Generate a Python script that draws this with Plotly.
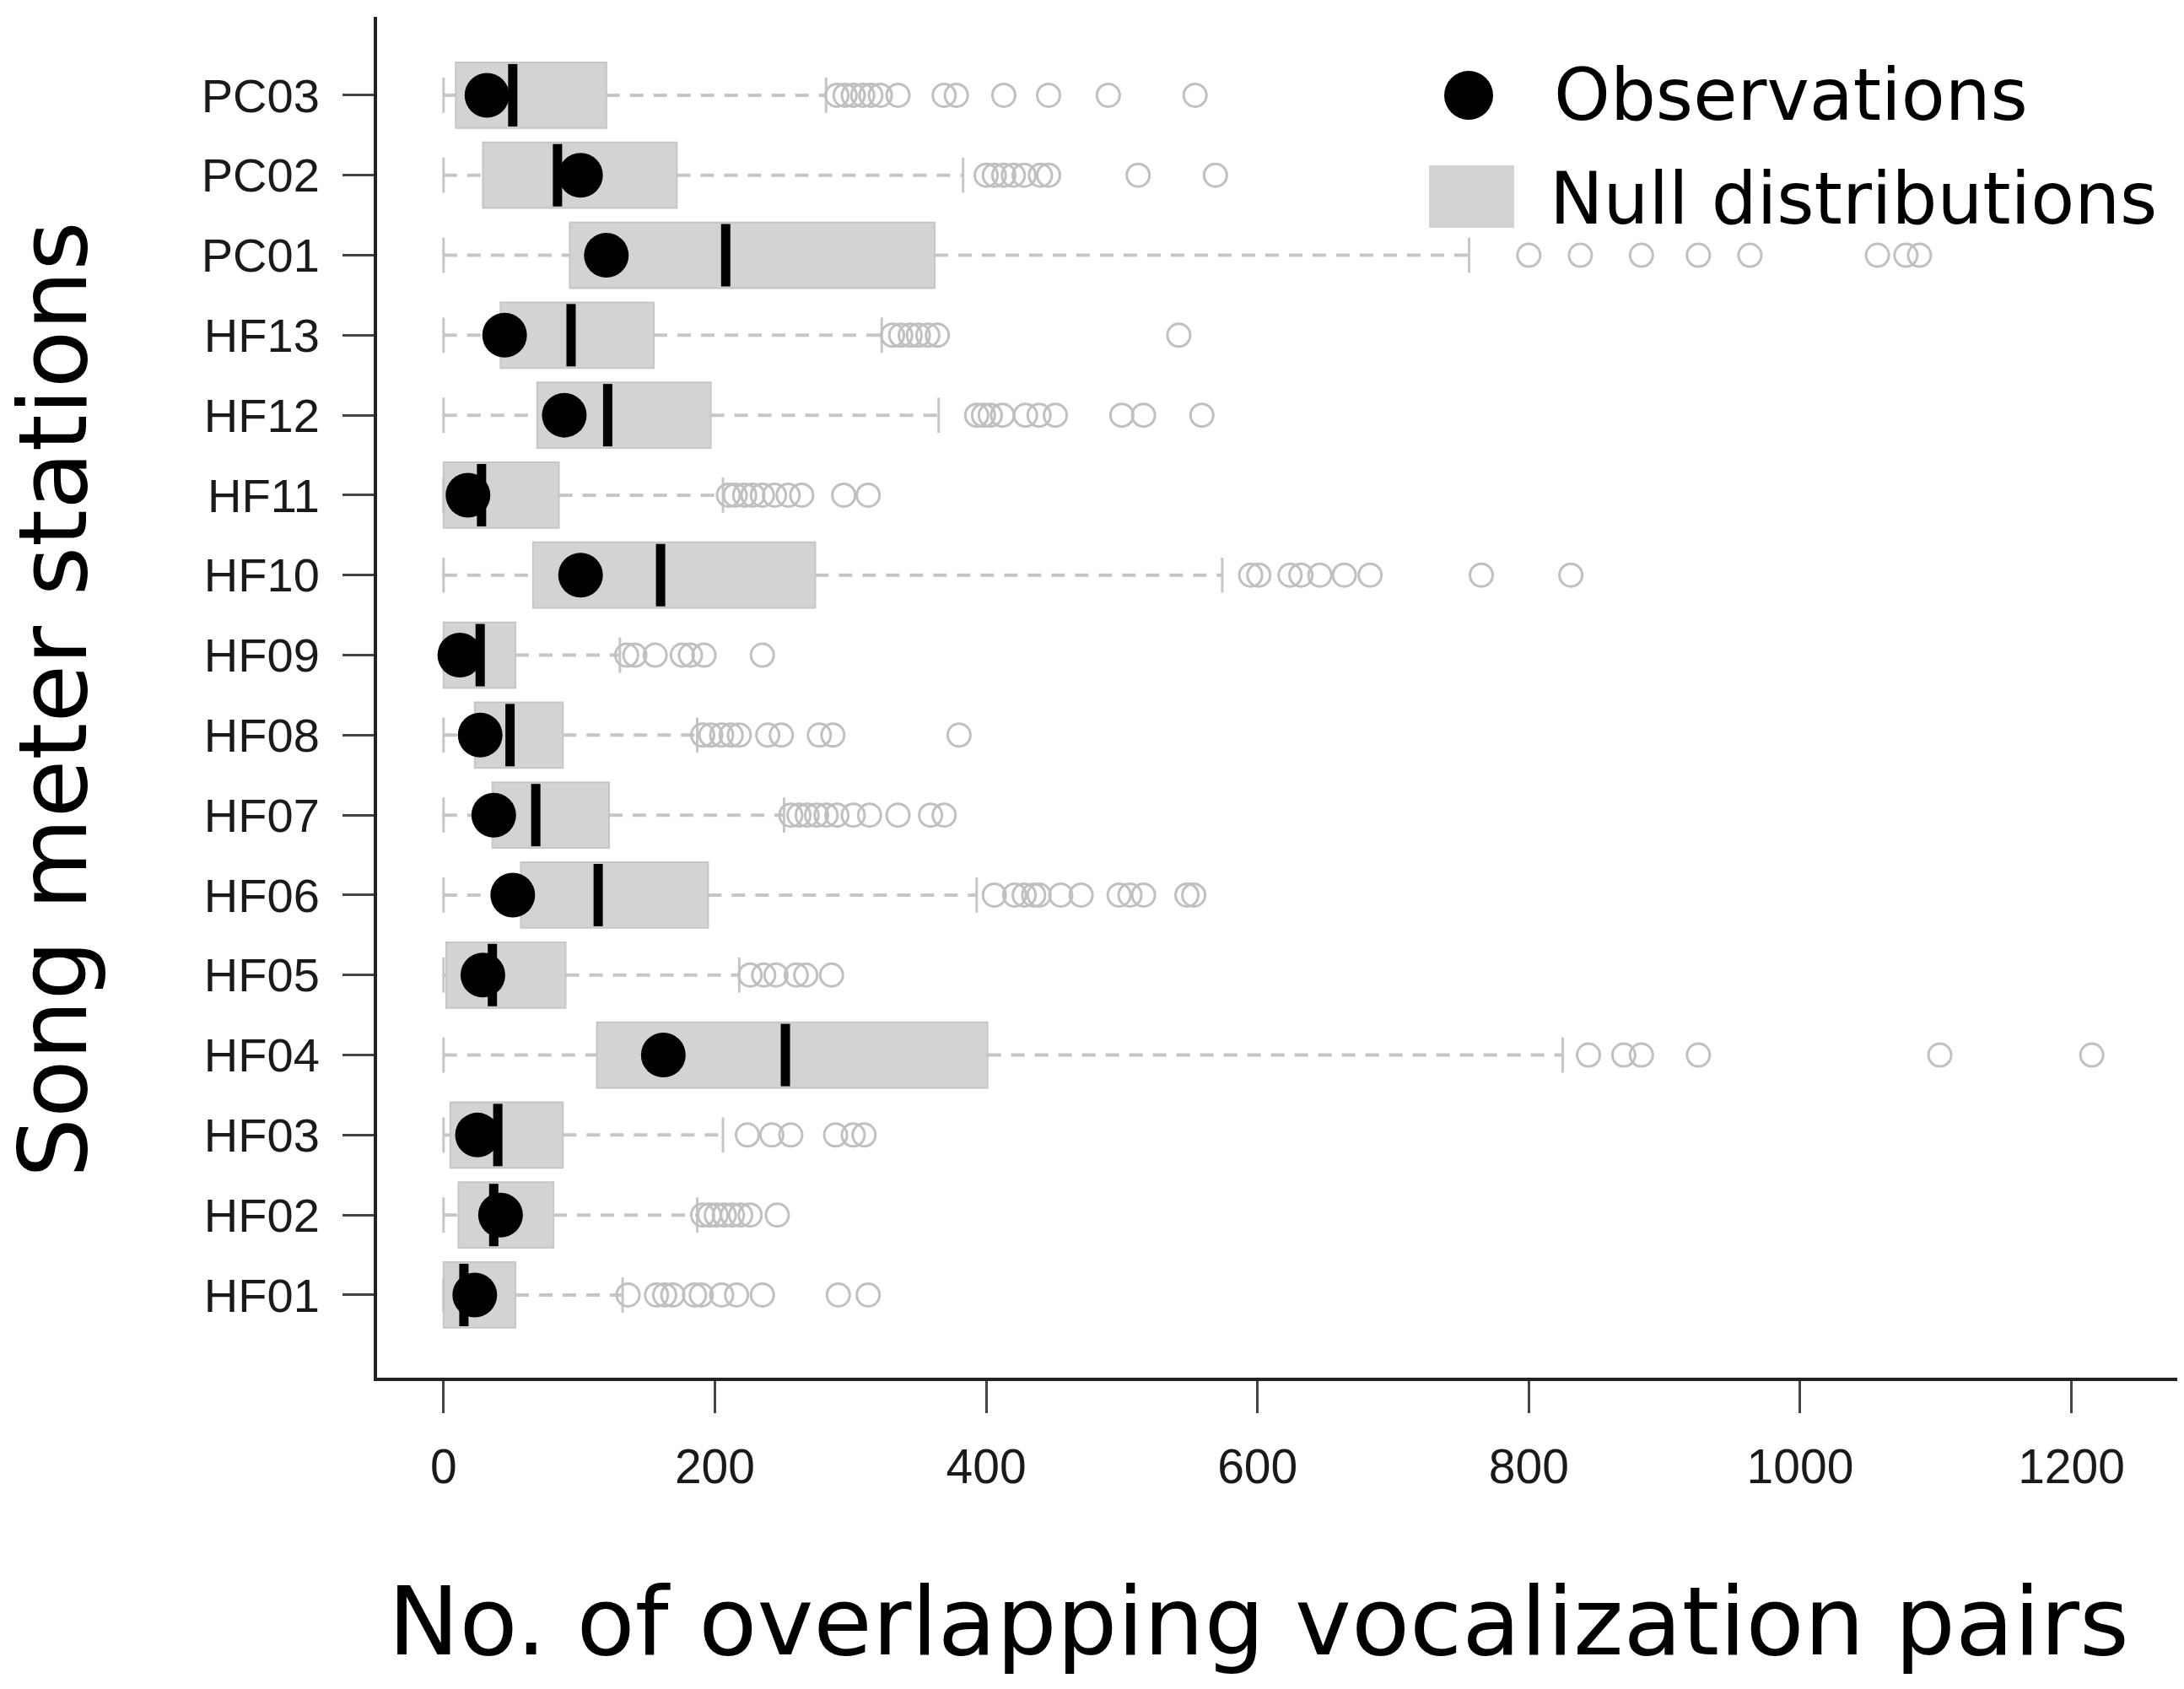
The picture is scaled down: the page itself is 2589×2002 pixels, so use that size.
import plotly.graph_objects as go

# ---------------- data (bottom to top) ----------------
stations = ["HF01", "HF02", "HF03", "HF04", "HF05", "HF06", "HF07", "HF08",
            "HF09", "HF10", "HF11", "HF12", "HF13", "PC01", "PC02", "PC03"]
q1 = [0, 11, 5, 113, 2, 57, 36, 23, 0, 66, 0, 69, 42, 93, 29, 9]
median = [15, 37, 40, 252, 36, 114, 68, 49, 27, 160, 28, 121, 94, 208, 84, 51]
q3 = [53, 81, 88, 401, 90, 195, 122, 88, 53, 274, 85, 197, 155, 362, 172, 120]
lower_whisker = [0] * 16
upper_whisker = [132, 187, 206, 825, 218, 393, 251, 187, 130, 574, 206, 365, 323, 756, 383, 282]
observed = [23, 42, 25, 162, 29, 51, 37, 27, 12, 101, 18, 89, 45, 120, 101, 32]
outliers = [
    [136, 157, 163, 169, 185, 190, 205, 216, 235, 291, 313],                 # HF01
    [191, 196, 201, 207, 213, 219, 226, 246],                                # HF02
    [224, 242, 256, 289, 302, 310],                                          # HF03
    [844, 870, 883, 925, 1103, 1215],                                        # HF04
    [226, 236, 245, 260, 267, 286],                                          # HF05
    [406, 421, 428, 435, 439, 455, 470, 498, 506, 516, 548, 553],            # HF06
    [256, 262, 268, 275, 282, 290, 302, 314, 335, 359, 369],                 # HF07
    [191, 197, 205, 212, 218, 239, 249, 277, 287, 380],                      # HF08
    [135, 141, 156, 176, 182, 192, 235],                                     # HF09
    [595, 601, 624, 632, 646, 664, 683, 765, 831],                           # HF10
    [210, 215, 222, 228, 235, 244, 254, 264, 295, 313],                      # HF11
    [393, 398, 403, 412, 429, 439, 451, 500, 516, 559],                      # HF12
    [331, 337, 344, 350, 357, 364, 542],                                     # HF13
    [800, 838, 883, 925, 963, 1057, 1078, 1088],                             # PC01
    [400, 406, 413, 420, 428, 440, 446, 512, 569],                           # PC02
    [290, 296, 302, 309, 315, 322, 335, 369, 378, 413, 446, 490, 554],       # PC03
]
x_ticks = [0, 200, 400, 600, 800, 1000, 1200]
legend_labels = ["Observations", "Null distributions"]
x_title = "No. of overlapping vocalization pairs"
y_title = "Song meter stations"

# ---------------- geometry / style ----------------
PAGE_PAD = 8                      # default body margin of the html page
W, H = 2589 - 2 * PAGE_PAD, 2002 - 2 * PAGE_PAD
L, R, T = 439, 0, 12
B = H - 1625
PW, PH = W - L - R, H - T - B
pos = list(range(1, len(stations) + 1))
BOXW = 0.82
CAPH = 0.22
MEDH = 0.39

GREY_BOX = "#d3d3d3"
GREY_LINE = "#c6c6c6"

def px_x(p):  # screen pixel -> paper x
    return (p - PAGE_PAD - L) / PW

def px_y(p):  # screen pixel -> paper y
    return (T + PH - (p - PAGE_PAD)) / PH

fig = go.Figure()

# whiskers (dashed)
wx, wy = [], []
for i, p in enumerate(pos):
    wx += [lower_whisker[i], q1[i], None, q3[i], upper_whisker[i], None]
    wy += [p, p, None, p, p, None]
fig.add_trace(go.Scatter(x=wx, y=wy, mode="lines",
                         line=dict(color=GREY_LINE, width=4, dash="16px,12px"),
                         hoverinfo="skip", showlegend=False))

# whisker caps
cx, cy = [], []
for i, p in enumerate(pos):
    for v in (lower_whisker[i], upper_whisker[i]):
        cx += [v, v, None]
        cy += [p - CAPH, p + CAPH, None]
fig.add_trace(go.Scatter(x=cx, y=cy, mode="lines",
                         line=dict(color=GREY_LINE, width=3),
                         hoverinfo="skip", showlegend=False))

# boxes
fig.add_trace(go.Bar(y=pos, x=[b - a for a, b in zip(q1, q3)], base=q1,
                     orientation="h", width=BOXW,
                     marker=dict(color=GREY_BOX, line=dict(color="#c6c6c6", width=2)),
                     showlegend=False, hoverinfo="skip"))

# outliers
ox, oy = [], []
for i, p in enumerate(pos):
    ox += outliers[i]
    oy += [p] * len(outliers[i])
fig.add_trace(go.Scatter(x=ox, y=oy, mode="markers",
                         marker=dict(symbol="circle-open", size=27,
                                     color="#c0c0c0", line=dict(width=3, color="#c0c0c0")),
                         hoverinfo="skip", showlegend=False))

# medians
mx, my = [], []
for i, p in enumerate(pos):
    mx += [median[i], median[i], None]
    my += [p - MEDH, p + MEDH, None]
fig.add_trace(go.Scatter(x=mx, y=my, mode="lines",
                         line=dict(color="black", width=11),
                         hoverinfo="skip", showlegend=False))

# observations
fig.add_trace(go.Scatter(x=observed, y=pos, mode="markers",
                         marker=dict(symbol="circle", size=53, color="black"),
                         hoverinfo="skip", showlegend=False))

# ---------------- legend (drawn manually) ----------------
shapes = [
    dict(type="circle", xref="paper", yref="paper",
         x0=px_x(1712), x1=px_x(1770), y0=px_y(142), y1=px_y(84),
         fillcolor="black", line=dict(width=0)),
    dict(type="rect", xref="paper", yref="paper",
         x0=px_x(1694), x1=px_x(1795), y0=px_y(270), y1=px_y(196),
         fillcolor=GREY_BOX, line=dict(width=0)),
]
annotations = [
    dict(text=legend_labels[0], xref="paper", yref="paper",
         x=px_x(1840), y=px_y(113), xanchor="left", yanchor="middle",
         showarrow=False, font=dict(family="DejaVu Sans", size=85, color="black")),
    dict(text=legend_labels[1], xref="paper", yref="paper",
         x=px_x(1835), y=px_y(236), xanchor="left", yanchor="middle",
         showarrow=False, font=dict(family="DejaVu Sans", size=85, color="black")),
    dict(text=x_title, xref="paper", yref="paper",
         x=px_x(1492), y=px_y(1922), xanchor="center", yanchor="middle",
         showarrow=False, font=dict(family="DejaVu Sans", size=113, color="black")),
    dict(text=y_title, xref="paper", yref="paper", textangle=-90,
         x=px_x(63), y=px_y(829), xanchor="center", yanchor="middle",
         showarrow=False, font=dict(family="DejaVu Sans", size=112, color="black")),
]

fig.update_layout(
    width=W, height=H,
    margin=dict(l=L, r=R, t=T, b=B, pad=0),
    paper_bgcolor="white", plot_bgcolor="white",
    shapes=shapes, annotations=annotations,
    showlegend=False,
    xaxis=dict(range=[-49, 1278], tickvals=x_ticks, ticks="outside", ticklen=38,
               tickwidth=3, tickcolor="#444444", showline=True, linecolor="#222222",
               linewidth=4, showgrid=False, zeroline=False,
               tickfont=dict(family="Liberation Sans", size=57, color="#1a1a1a"),
               ticklabelstandoff=15),
    yaxis=dict(range=[-0.034, 16.98], tickvals=pos, ticktext=stations,
               ticks="outside", ticklen=37, tickwidth=3, tickcolor="#444444",
               showline=True, linecolor="#222222", linewidth=4, showgrid=False,
               zeroline=False,
               tickfont=dict(family="Liberation Sans", size=56, color="#1a1a1a"),
               ticklabelstandoff=16),
)

fig.write_html("out.html")
